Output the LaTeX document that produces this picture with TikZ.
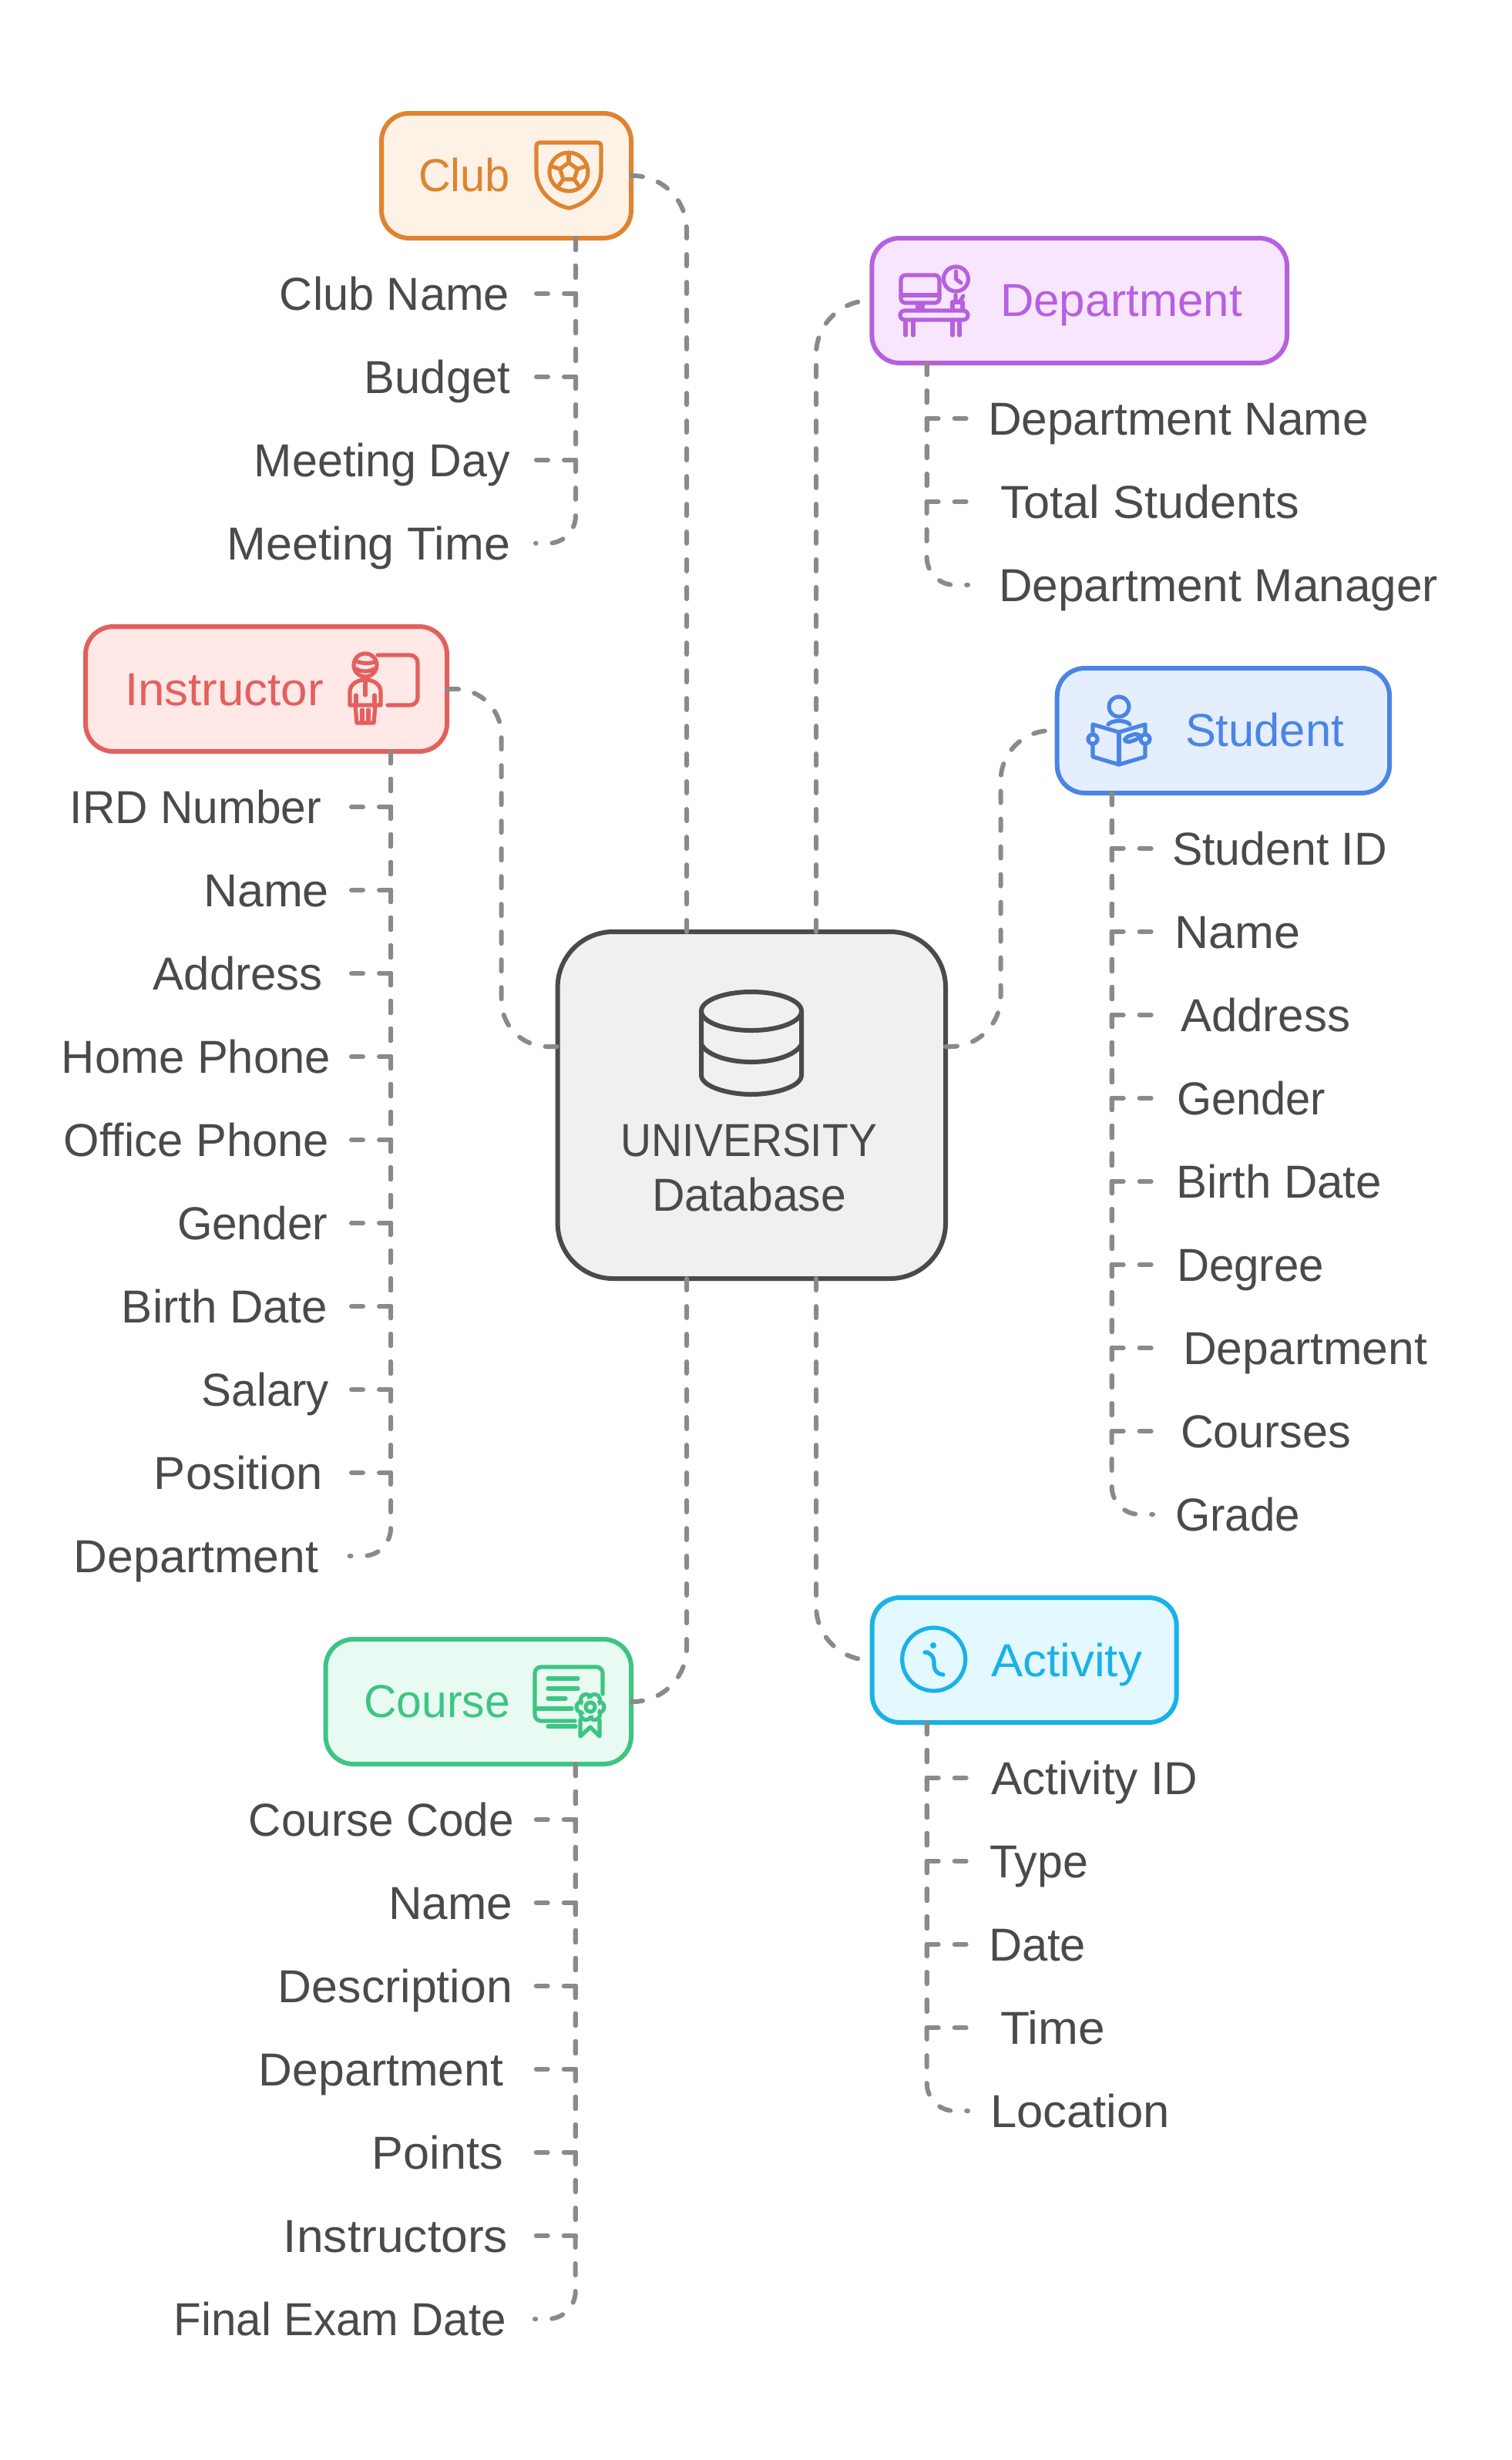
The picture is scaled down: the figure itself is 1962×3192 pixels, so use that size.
\documentclass[tikz,border=0pt]{standalone}
\usepackage{fontspec}
\setmainfont{Liberation Sans}
\usetikzlibrary{calc}
\newlength\pxunit
\setlength\pxunit{0.5pt}
% set a text to a given width in drawing units, keeping its height
\newcommand\setwide[2]{\resizebox{#1\pxunit}{\height}{#2}}
\definecolor{ink}{HTML}{4A4A4A}
\definecolor{wire}{HTML}{8A8A8A}
\definecolor{hubfill}{HTML}{F0F0F0}
\definecolor{clubc}{HTML}{DE8431}\definecolor{clubf}{HTML}{FEF2E6}
\definecolor{deptc}{HTML}{B760DF}\definecolor{deptf}{HTML}{F7E6FD}
\definecolor{instc}{HTML}{E2605E}\definecolor{instf}{HTML}{FFE8E6}
\definecolor{studc}{HTML}{4A85E4}\definecolor{studf}{HTML}{E4EEFE}
\definecolor{coursec}{HTML}{3DC583}\definecolor{coursef}{HTML}{E8FAF2}
\definecolor{actc}{HTML}{19B2E6}\definecolor{actf}{HTML}{E4F8FF}
\tikzset{
  card/.style n args={3}{draw=#1,fill=#2,line width=3pt,rounded corners=18pt,
    minimum width=#3,minimum height=81pt,inner sep=0pt,outer sep=0pt},
  lab/.style={inner sep=0pt,outer sep=0pt,text height=21.5pt,text depth=0pt,
    font=\fontsize{30}{36}\selectfont},
  attr/.style={lab,text=ink},
  link/.style={draw=wire,line width=3pt,line cap=round,
    dash pattern=on 7.5pt off 10.5pt},
  elbow/.style={sharp corners},
  lastelbow/.style={rounded corners=18pt},
  sweep/.style={rounded corners=35pt},
  glyph/.style={line width=2.6pt,line cap=round,line join=round},
}
\begin{document}
\begin{tikzpicture}[x=0.5pt,y=-0.5pt]
\useasboundingbox (0,0) rectangle (1962,3192);

% central database card
\node[draw=ink,fill=hubfill,line width=3pt,rounded corners=36pt,minimum width=251.7pt,
  minimum height=225pt,inner sep=0pt,outer sep=0pt] (hub) at (975.3,1434) {};

% category cards
\node[card={clubc}{clubf}{162pt}] (club) at (657,228) {};
\node[card={deptc}{deptf}{269.3pt}] (dept) at (1400.7,390) {};
\node[card={instc}{instf}{234.5pt}] (inst) at (345.5,894) {};
\node[card={studc}{studf}{215.7pt}] (stud) at (1587.4,948) {};
\node[card={coursec}{coursef}{198.2pt}] (course) at (620.8,2208) {};
\node[card={actc}{actf}{197.5pt}] (act) at (1329.2,2154) {};

% card titles
\node[lab,text=clubc,anchor=west] (clubtitle) at (543,226.5) {\setwide{119}{Club}};
\node[lab,text=deptc,anchor=west] (depttitle) at (1298,389) {\setwide{314}{Department}};
\node[lab,text=instc,anchor=west] (insttitle) at (162,893.5) {\setwide{258}{Instructor}};
\node[lab,text=studc,anchor=west] (studtitle) at (1538,946.5) {\setwide{206}{Student}};
\node[lab,text=coursec,anchor=west] (coursetitle) at (472,2206.5) {\setwide{190}{Course}};
\node[lab,text=actc,anchor=west] (acttitle) at (1286,2153.5) {\setwide{196}{Activity}};
\node[attr] (hubtitlea) at (972,1478.5) {\setwide{332}{UNIVERSITY}};
\node[attr] (hubtitleb) at (972,1550) {\setwide{252}{Database}};

% routing helpers
\coordinate (leftlane) at ($(hub.north)+(-84.3,0)$);
\coordinate (rightlane) at ($(hub.north)+(83.7,0)$);
\coordinate (hubside) at ($(hub.center)+(0,-76)$);
\coordinate (instlane) at (650.6,0);
\coordinate (studlane) at (1298.5,0);

% connectors between the central card and the categories
\draw[link,sweep] (club.east) -- (club.east -| leftlane) -- (leftlane);
\draw[link,sweep] (rightlane) -- (dept.west -| rightlane) -- (dept.west);
\draw[link,rounded corners=30pt] (inst.east) -- (inst.east -| instlane) -- (hubside -| instlane) -- (hub.west |- hubside);
\draw[link,rounded corners=32.5pt] (hub.east |- hubside) -- (hubside -| studlane) -- (stud.west -| studlane) -- (stud.west);
\draw[link,sweep] (course.east) -- (course.east -| leftlane) -- (hub.south -| leftlane);
\draw[link,sweep] (hub.south -| rightlane) -- (act.west -| rightlane) -- (act.west);

% attribute lists: each entry runs from its card down the trunk to a stub
\coordinate (clubtrunk) at (club.south -| 747,0);
\coordinate (clubstub) at (695,0);
\foreach \i/\xe/\w/\st/\lbl in {1/661/298/elbow/Club Name,2/662/189/elbow/Budget,3/662/332/elbow/Meeting Day,4/662/367/lastelbow/Meeting Time}{
  \node[attr,anchor=east] (clubattr\i) at (\xe,{381+108*(\i-1)}) {\setwide{\w}{\lbl}};
  \draw[link,\st] (clubtrunk) -- (clubattr\i.east -| clubtrunk) -- (clubattr\i.east -| clubstub);
}
\coordinate (depttrunk) at (dept.south -| 1202.6,0);
\coordinate (deptstub) at (1256,0);
\foreach \i/\xs/\w/\st/\lbl in {1/1282/494/elbow/Department Name,2/1298/388/elbow/Total Students,3/1296/570/lastelbow/Department Manager}{
  \node[attr,anchor=west] (deptattr\i) at (\xs,{543+108*(\i-1)}) {\setwide{\w}{\lbl}};
  \draw[link,\st] (depttrunk) -- (deptattr\i.west -| depttrunk) -- (deptattr\i.west -| deptstub);
}
\coordinate (insttrunk) at (inst.south -| 507,0);
\coordinate (inststub) at (453.6,0);
\foreach \i/\xe/\w/\st/\lbl in {1/417/326/elbow/IRD Number,2/427/163/elbow/Name,3/419/220/elbow/Address,4/429/349/elbow/Home Phone,5/427/344/elbow/Office Phone,6/425/195/elbow/Gender,7/425/267/elbow/Birth Date,8/427/165/elbow/Salary,9/419/219/elbow/Position,10/413/317/lastelbow/Department}{
  \node[attr,anchor=east] (instattr\i) at (\xe,{1047+108*(\i-1)}) {\setwide{\w}{\lbl}};
  \draw[link,\st] (insttrunk) -- (instattr\i.east -| insttrunk) -- (instattr\i.east -| inststub);
}
\coordinate (studtrunk) at (stud.south -| 1442.7,0);
\coordinate (studstub) at (1496,0);
\foreach \i/\xs/\w/\st/\lbl in {1/1521/279/elbow/Student ID,2/1524/163/elbow/Name,3/1532/220/elbow/Address,4/1527/193/elbow/Gender,5/1526/267/elbow/Birth Date,6/1527/191/elbow/Degree,7/1535/317/elbow/Department,8/1532/221/elbow/Courses,9/1525/162/lastelbow/Grade}{
  \node[attr,anchor=west] (studattr\i) at (\xs,{1101+108*(\i-1)}) {\setwide{\w}{\lbl}};
  \draw[link,\st] (studtrunk) -- (studattr\i.west -| studtrunk) -- (studattr\i.west -| studstub);
}
\coordinate (coursetrunk) at (course.south -| 746.7,0);
\coordinate (coursestub) at (694,0);
\foreach \i/\xe/\w/\st/\lbl in {1/667/344/elbow/Course Code,2/665/161/elbow/Name,3/665/304/elbow/Description,4/653/317/elbow/Department,5/653/170/elbow/Points,6/659/291/elbow/Instructors,7/657/431/lastelbow/Final Exam Date}{
  \node[attr,anchor=east] (courseattr\i) at (\xe,{2361+108*(\i-1)}) {\setwide{\w}{\lbl}};
  \draw[link,\st] (coursetrunk) -- (courseattr\i.east -| coursetrunk) -- (courseattr\i.east -| coursestub);
}
\coordinate (acttrunk) at (act.south -| 1202.7,0);
\coordinate (actstub) at (1256,0);
\foreach \i/\xs/\w/\st/\lbl in {1/1286/268/elbow/Activity ID,2/1284/128/elbow/Type,3/1283/126/elbow/Date,4/1298/136/elbow/Time,5/1285/233/lastelbow/Location}{
  \node[attr,anchor=west] (actattr\i) at (\xs,{2307+108*(\i-1)}) {\setwide{\w}{\lbl}};
  \draw[link,\st] (acttrunk) -- (actattr\i.west -| acttrunk) -- (actattr\i.west -| actstub);
}

% database drum
\begin{scope}[glyph,draw=ink,line width=3pt]
  \draw (975,1312) ellipse [x radius=65,y radius=25];
  \draw (910,1312) -- (910,1395) .. controls (910,1410) and (945,1420) .. (975,1420)
        .. controls (1005,1420) and (1040,1410) .. (1040,1395) -- (1040,1312);
  \draw (910,1355) .. controls (917,1369) and (945,1378) .. (975,1378)
        .. controls (1005,1378) and (1033,1369) .. (1040,1355);
\end{scope}

% club shield with a football
\begin{scope}[glyph,draw=clubc]
  \draw (700,185) -- (776,185) .. controls (779,185) and (780,187) .. (780,190) -- (780,222)
        .. controls (780,245) and (762,265) .. (738,270) .. controls (714,265) and (696,245) .. (696,222)
        -- (696,190) .. controls (696,187) and (697,185) .. (700,185) -- cycle;
  \begin{scope}[shift={(738,223)}]
    \draw (0,0) circle [radius=25];
    \draw (-90:12) -- (-18:12) -- (54:12) -- (126:12) -- (198:12) -- cycle;
    \foreach \a in {-90,-18,54,126,198}{\draw (\a:12) -- (\a:24);}
  \end{scope}
\end{scope}

% desk, screen, clock and pen cup
\begin{scope}[glyph,draw=deptc]
  \draw[rounded corners=3pt] (1169,357) rectangle (1219,393);
  \draw (1169,383) -- (1219,383);
  \draw (1191,393) -- (1191,403) (1197,393) -- (1197,403);
  \draw[rounded corners=3pt] (1168,403) rectangle (1256,415);
  \draw (1175,415) -- (1175,435) (1185,415) -- (1185,435) (1236,415) -- (1236,435) (1245,415) -- (1245,435);
  \draw (1240.4,362) circle [radius=16];
  \draw (1240.4,352) -- (1240.4,362) -- (1247,367);
  \draw (1236,403) -- (1236,392) -- (1249,392) -- (1249,403);
  \draw (1240,392) -- (1240,383) (1245,392) -- (1250,384);
\end{scope}

% instructor at a board
\begin{scope}[glyph,draw=instc]
  \draw[rounded corners=5pt] (490,850) -- (542,850) -- (542,915) -- (503,915);
  \draw (474,863) circle [radius=15];
  \draw (461,857) .. controls (467,861) and (480,862) .. (488,858);
  \draw (463,868) .. controls (468,872) and (480,872) .. (485,868);
  \draw (454,915) -- (454,897) .. controls (454,888) and (464,882) .. (474,882)
        .. controls (484,882) and (494,888) .. (494,897) -- (494,915) -- cycle;
  \draw (474,884) -- (474,902);
  \draw (462,902) -- (462,915) (486,902) -- (486,915);
  \draw (461,915) -- (463,938) -- (485,938) -- (487,915);
  \draw (470,921) -- (470,937) (478,921) -- (478,937);
\end{scope}

% reading student
\begin{scope}[glyph,draw=studc]
  \draw (1452,917) circle [radius=13];
  \draw (1438,940) .. controls (1442,934) and (1462,934) .. (1466,940);
  \draw (1418,940) -- (1452,950) -- (1486,940) -- (1486,982) -- (1452,992) -- (1418,982) -- cycle;
  \draw (1452,950) -- (1452,992);
  \draw[fill=studf] (1418,959) circle [radius=6];
  \draw[fill=studf] (1486,959) circle [radius=6];
  \draw[fill=studf,rounded corners=2.5pt] (1459,957) -- (1477,951) -- (1479,958) -- (1461,964) -- cycle;
\end{scope}

% certificate with a rosette
\begin{scope}[glyph,draw=coursec]
  \draw[rounded corners=4pt] (746,2233) -- (694,2233) -- (694,2163) -- (782,2163) -- (782,2198);
  \draw (694,2217) -- (742,2217);
  \draw (711,2178) -- (750,2178) (711,2191) -- (750,2191) (711,2204) -- (734,2204);
  \draw (711,2240) -- (747,2240);
  \draw (753,2232) -- (753,2253) -- (766,2241) -- (778,2253) -- (778,2232);
  \begin{scope}[shift={(766,2215)}]
    \foreach \a in {0,60,...,300}{\draw[fill=coursef] (\a:11) circle [radius=7];}
    \fill[coursef] (0,0) circle [radius=11];
    \draw (0,0) circle [radius=6];
  \end{scope}
\end{scope}

% information mark
\begin{scope}[glyph,draw=actc]
  \draw (1211.7,2153) circle [radius=41];
  \fill[actc] (1211,2135) circle [radius=4];
  \draw[rounded corners=6pt] (1204,2144) -- (1212,2144) -- (1212,2173) -- (1223,2173);
\end{scope}
\end{tikzpicture}
\end{document}
